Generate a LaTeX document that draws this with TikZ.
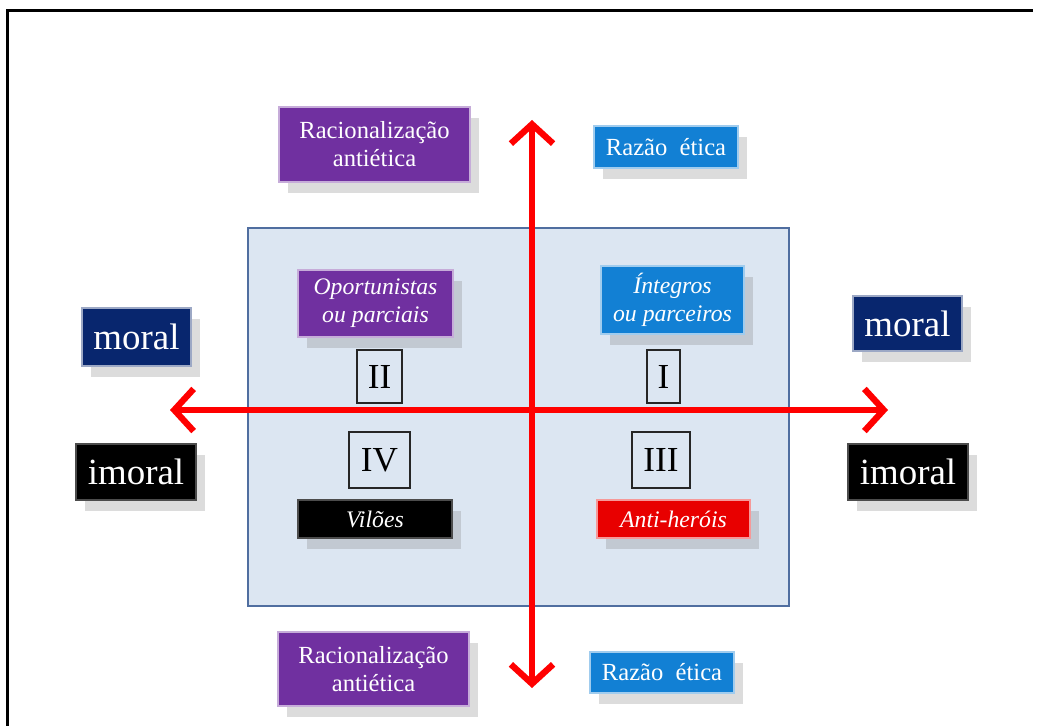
\documentclass[tikz,border=0pt]{standalone}
\usepackage{fontspec}
\setmainfont{Liberation Serif}
\usetikzlibrary{arrows.meta,shadows}

\definecolor{roxo}{RGB}{112,48,160}
\definecolor{azul}{RGB}{18,128,212}
\definecolor{marinho}{RGB}{8,38,110}
\definecolor{vermelho}{RGB}{232,0,0}
\definecolor{seta}{RGB}{255,0,0}
\definecolor{painel}{RGB}{220,230,242}
\definecolor{bordapainel}{RGB}{80,110,160}

\begin{document}
\begin{tikzpicture}[x=0.02cm,y=-0.02cm,
		caixa/.style={draw=white!60!#1,fill=#1,text=white,line width=0.8pt,align=center,inner sep=2pt,
			drop shadow={opacity=0.28,shadow xshift=5pt,shadow yshift=-6pt}},
		texto/.style={font=\fontsize{14}{16}\selectfont},
		italico/.style={font=\fontsize{13.5}{16}\selectfont\itshape},
		grande/.style={font=\fontsize{21}{24}\selectfont},
		numero/.style={draw=black!85,line width=1pt,font=\fontsize{20}{22}\selectfont,inner sep=0pt},
		eixo/.style={seta,line width=3.6pt,{Straight Barb[length=11pt,width=24pt]}-{Straight Barb[length=11pt,width=24pt]}}]
		\useasboundingbox (0,0) rectangle (1037,726);
		\draw[line width=1.6pt] (7.5,726) -- (7.5,10.5) -- (1033,10.5);
		\draw[fill=painel,draw=bordapainel,line width=0.8pt] (248,228) rectangle (789,606);
		% eixos
		\coordinate (topo) at (532,120);
		\coordinate (base) at (532,688);
		\coordinate (esq) at (170,410);
		\coordinate (dir) at (888,410);
		\draw[eixo] (base) -- (topo);
		\draw[eixo] (esq) -- (dir);
		% quadrantes
		\node[numero,minimum width=0.9cm,minimum height=1.06cm] (II) at (379.5,376.5) {II};
		\node[numero,minimum width=0.66cm,minimum height=1.06cm] (I) at (663.5,376.5) {I};
		\node[numero,minimum width=1.22cm,minimum height=1.12cm] (IV) at (379.5,460) {IV};
		\node[numero,minimum width=1.16cm,minimum height=1.12cm] (III) at (661,460) {III};
		\node[caixa=roxo,italico,minimum width=3.1cm,minimum height=1.34cm] (oport) at (375.5,303.5) {Oportunistas\\ou parciais};
		\node[caixa=azul,italico,minimum width=2.86cm,minimum height=1.36cm] (integ) at (672.5,300) {Íntegros\\ou parceiros};
		\node[caixa=black,italico,draw=black!70,minimum width=3.08cm,minimum height=0.76cm] (viloes) at (375,519) {Vilões};
		\node[caixa=vermelho,italico,minimum width=3.06cm,minimum height=0.76cm] (anti) at (673.5,519) {Anti-heróis};
		% rotulos de fora
		\node[caixa=roxo,texto,minimum width=3.82cm,minimum height=1.5cm] (racTopo) at (374.5,144.5) {Racionalização\\antiética};
		\node[caixa=azul,texto,minimum width=2.88cm,minimum height=0.84cm] (razTopo) at (666,147) {Razão\ \ ética};
		\node[caixa=roxo,texto,minimum width=3.82cm,minimum height=1.48cm] (racBase) at (373.5,669) {Racionalização\\antiética};
		\node[caixa=azul,texto,minimum width=2.88cm,minimum height=0.82cm] (razBase) at (662,672.5) {Razão\ \ ética};
		\node[caixa=marinho,grande,minimum width=2.18cm,minimum height=1.16cm] (moralEsq) at (136.5,337) {moral};
		\node[caixa=black,grande,draw=black!70,minimum width=2.4cm,minimum height=1.12cm] (imoralEsq) at (136,472) {imoral};
		\node[caixa=marinho,grande,minimum width=2.18cm,minimum height=1.1cm] (moralDir) at (907.5,323.5) {moral};
		\node[caixa=black,grande,draw=black!70,minimum width=2.4cm,minimum height=1.12cm] (imoralDir) at (908,472) {imoral};
	\end{tikzpicture}
\end{document}
